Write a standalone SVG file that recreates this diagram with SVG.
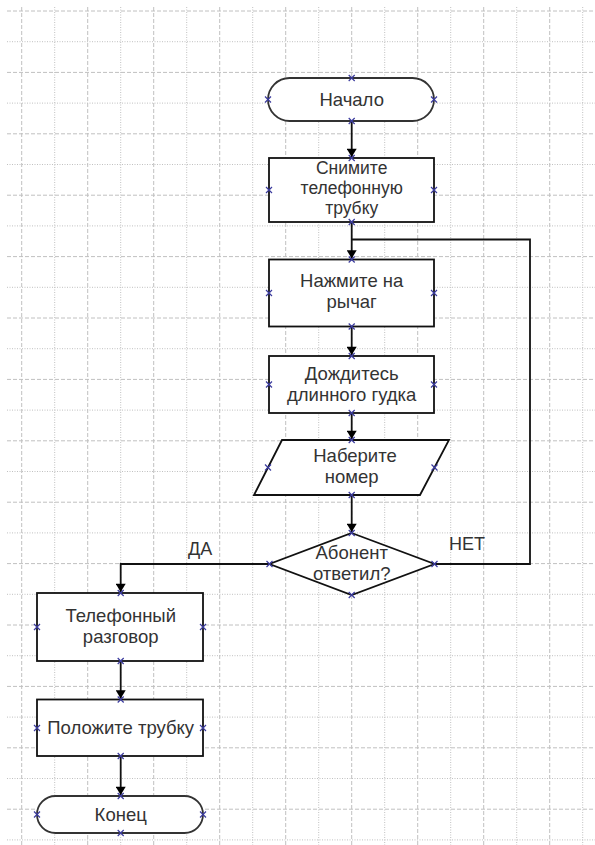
<svg xmlns="http://www.w3.org/2000/svg" width="595" height="845" viewBox="0 0 595 845">
<style>
.gd{stroke:#c0c0c0;stroke-width:1;fill:none;stroke-dasharray:4 2}
.gt{stroke:#c0c0c0;stroke-width:1;fill:none;stroke-dasharray:1 1.5}
.node{fill:#fff;stroke:#111;stroke-width:1.8}
.term{fill:#fff;stroke:#333;stroke-width:1.8}
.txt{font-family:"Liberation Sans",Arial,sans-serif;font-size:18.5px;fill:#333;text-anchor:middle}
.sm{font-size:17.5px}
.lbl{font-family:"Liberation Sans",Arial,sans-serif;font-size:18px;fill:#333}
.con{fill:none;stroke:#111;stroke-width:1.8}
.cp{stroke:#3b3b9e;stroke-width:1.2;fill:none}
</style>
<defs>
<marker id="arr" viewBox="0 0 10 12" refX="10" refY="6" markerWidth="12" markerHeight="10" orient="auto" markerUnits="userSpaceOnUse">
<path d="M0,0 L10,6 L0,12 z" fill="#000"/>
</marker>
<path id="cp" d="M-3,-3L3,3M-3,3L3,-3" class="cp"/>
</defs>
<rect width="595" height="845" fill="#fff"/>
<g id="grid">
<path class="gd" d="M7,11H595M7,72.4H595M7,133.8H595M7,195.2H595M7,256.6H595M7,318H595M7,379.4H595M7,440.8H595M7,502.2H595M7,563.6H595M7,625H595M7,686.4H595M7,747.8H595M7,809.2H595"/>
<path class="gt" d="M7,41.7H595M7,103.1H595M7,164.5H595M7,225.9H595M7,287.3H595M7,348.7H595M7,410.1H595M7,471.5H595M7,532.9H595M7,594.3H595M7,655.7H595M7,717.1H595M7,778.5H595M7,839.9H595"/>
<path class="gd" d="M21.7,7V845M87.7,7V845M153.7,7V845M219.7,7V845M285.7,7V845M351.7,7V845M417.7,7V845M483.7,7V845M549.7,7V845"/>
<path class="gt" d="M54.7,7V845M120.7,7V845M186.7,7V845M252.7,7V845M318.7,7V845M384.7,7V845M450.7,7V845M516.7,7V845M582.7,7V845"/>
</g>
<g id="connectors">
<path class="con" d="M351.7,121V157" marker-end="url(#arr)"/>
<path class="con" d="M351.7,222V258.5" marker-end="url(#arr)"/>
<path class="con" d="M434.5,564H530V239.5H351.7"/>
<path class="con" d="M351.7,326.5V355" marker-end="url(#arr)"/>
<path class="con" d="M351.7,413V439" marker-end="url(#arr)"/>
<path class="con" d="M351.7,495V532" marker-end="url(#arr)"/>
<path class="con" d="M269.5,564H120.7V592" marker-end="url(#arr)"/>
<path class="con" d="M120.7,661V698.5" marker-end="url(#arr)"/>
<path class="con" d="M120.7,756V795" marker-end="url(#arr)"/>
<text class="lbl" x="188" y="555">ДА</text>
<text class="lbl" x="449" y="550">НЕТ</text>
</g>
<g id="start">
<rect class="term" x="268" y="78" width="166" height="43" rx="21.5"/>
<text class="txt" x="351.7" y="105.5">Начало</text>
<use href="#cp" x="351.7" y="78"/><use href="#cp" x="351.7" y="121"/><use href="#cp" x="268" y="99.5"/><use href="#cp" x="434" y="99.5"/>
</g>
<g id="pickup">
<rect class="node" x="269" y="158" width="165" height="64"/>
<text class="txt sm" x="351.7" y="173.5">Снимите</text>
<text class="txt sm" x="351.7" y="193.5">телефонную</text>
<text class="txt sm" x="351.7" y="213.5">трубку</text>
<use href="#cp" x="351.7" y="158"/><use href="#cp" x="351.7" y="222"/><use href="#cp" x="269" y="190"/><use href="#cp" x="434" y="190"/>
</g>
<g id="lever">
<rect class="node" x="269" y="259.5" width="165" height="67"/>
<text class="txt" x="351.7" y="287">Нажмите на</text>
<text class="txt" x="351.7" y="308">рычаг</text>
<use href="#cp" x="351.7" y="259.5"/><use href="#cp" x="351.7" y="326.5"/><use href="#cp" x="269" y="293"/><use href="#cp" x="434" y="293"/>
</g>
<g id="wait">
<rect class="node" x="269" y="356" width="165" height="57"/>
<text class="txt" x="351.7" y="379.5">Дождитесь</text>
<text class="txt" x="351.7" y="400.5">длинного гудка</text>
<use href="#cp" x="351.7" y="356"/><use href="#cp" x="351.7" y="413"/><use href="#cp" x="269" y="384.5"/><use href="#cp" x="434" y="384.5"/>
</g>
<g id="dial">
<path class="node" d="M282,440H449L420,495H254Z"/>
<text class="txt" x="355" y="461.5">Наберите</text>
<text class="txt" x="351.7" y="483">номер</text>
<use href="#cp" x="351.7" y="440"/><use href="#cp" x="351.7" y="495"/><use href="#cp" x="268" y="467.5"/><use href="#cp" x="434.5" y="467.5"/>
</g>
<g id="decision">
<path class="node" d="M351.7,533L434.5,564L351.7,595L269.5,564Z"/>
<text class="txt" x="351.7" y="558.5">Абонент</text>
<text class="txt" x="351.7" y="579.5">ответил?</text>
<use href="#cp" x="351.7" y="533"/><use href="#cp" x="351.7" y="595"/><use href="#cp" x="269.5" y="564"/><use href="#cp" x="434.5" y="564"/>
</g>
<g id="talk">
<rect class="node" x="37" y="593" width="166" height="68"/>
<text class="txt" x="120.7" y="621.5">Телефонный</text>
<text class="txt" x="120.7" y="642.5">разговор</text>
<use href="#cp" x="120.7" y="593"/><use href="#cp" x="120.7" y="661"/><use href="#cp" x="37" y="627"/><use href="#cp" x="203" y="627"/>
</g>
<g id="hangup">
<rect class="node" x="37" y="699.5" width="166" height="56.5"/>
<text class="txt" x="120.7" y="734">Положите трубку</text>
<use href="#cp" x="120.7" y="699.5"/><use href="#cp" x="120.7" y="756"/><use href="#cp" x="37" y="728"/><use href="#cp" x="203" y="728"/>
</g>
<g id="end">
<rect class="term" x="37" y="796" width="166" height="37" rx="18.5"/>
<text class="txt" x="120.7" y="820.5">Конец</text>
<use href="#cp" x="120.7" y="796"/><use href="#cp" x="120.7" y="833"/><use href="#cp" x="37" y="814.5"/><use href="#cp" x="203" y="814.5"/>
</g>
</svg>
